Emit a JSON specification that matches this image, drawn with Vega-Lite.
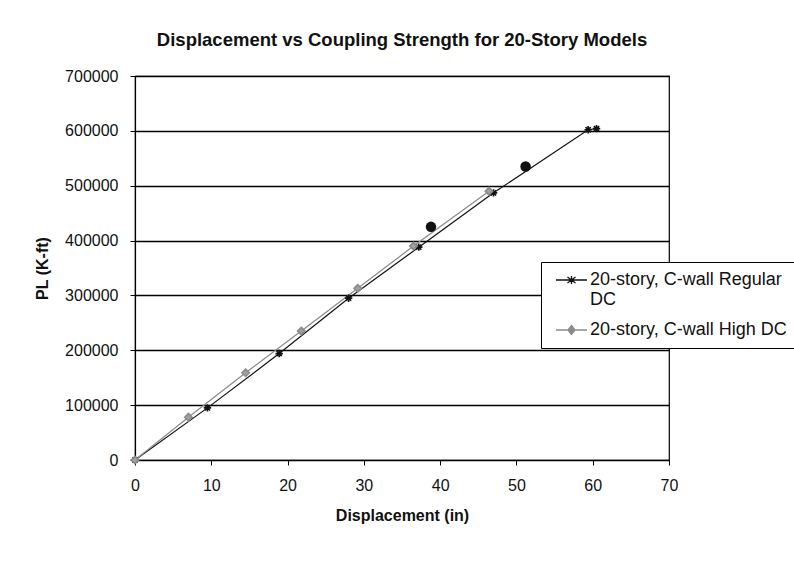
{
  "$schema": "https://vega.github.io/schema/vega-lite/v6.json",
  "width": 534,
  "height": 384,
  "autosize": {"type": "none"},
  "padding": {"left": 135, "top": 76, "right": 125, "bottom": 109},
  "background": "white",
  "title": {
    "text": "Displacement vs Coupling Strength for 20-Story Models",
    "font": "Liberation Sans",
    "fontSize": 18.5,
    "fontWeight": "bold",
    "color": "#111",
    "anchor": "middle",
    "offset": 19
  },
  "config": {
    "view": {"stroke": "black", "strokeWidth": 1.2},
    "axis": {
      "labelFont": "Liberation Sans",
      "labelFontSize": 16,
      "labelColor": "#111",
      "labelFlush": false,
      "titleFont": "Liberation Sans",
      "titleFontSize": 16,
      "titleFontWeight": "bold",
      "titleColor": "#111",
      "domainColor": "black",
      "domainWidth": 1.2,
      "tickColor": "black",
      "tickSize": 5
    }
  },
  "datasets": {
    "series": [
      {"series": "20-story, C-wall Regular DC", "disp": 0, "pl": 0},
      {"series": "20-story, C-wall Regular DC", "disp": 9.5, "pl": 95000},
      {"series": "20-story, C-wall Regular DC", "disp": 18.9, "pl": 194000},
      {"series": "20-story, C-wall Regular DC", "disp": 28.0, "pl": 295000},
      {"series": "20-story, C-wall Regular DC", "disp": 37.2, "pl": 388000},
      {"series": "20-story, C-wall Regular DC", "disp": 47.0, "pl": 487000},
      {"series": "20-story, C-wall Regular DC", "disp": 59.4, "pl": 602000},
      {"series": "20-story, C-wall Regular DC", "disp": 60.5, "pl": 604000},
      {"series": "20-story, C-wall High DC", "disp": 0, "pl": 0},
      {"series": "20-story, C-wall High DC", "disp": 7.0, "pl": 78000},
      {"series": "20-story, C-wall High DC", "disp": 14.5, "pl": 159000},
      {"series": "20-story, C-wall High DC", "disp": 21.8, "pl": 235000},
      {"series": "20-story, C-wall High DC", "disp": 29.2, "pl": 313000},
      {"series": "20-story, C-wall High DC", "disp": 36.5, "pl": 390000},
      {"series": "20-story, C-wall High DC", "disp": 46.4, "pl": 490000}
    ],
    "circles": [
      {"disp": 38.8, "pl": 425000},
      {"disp": 51.2, "pl": 535000}
    ]
  },
  "layer": [
    {
      "data": {"name": "series"},
      "mark": {"type": "line", "strokeWidth": 1.2},
      "encoding": {
        "x": {
          "field": "disp", "type": "quantitative",
          "scale": {"domain": [0, 70], "nice": false},
          "axis": {"values": [0, 10, 20, 30, 40, 50, 60, 70], "grid": false, "title": "Displacement (in)", "titlePadding": 14, "labelPadding": 12}
        },
        "y": {
          "field": "pl", "type": "quantitative",
          "scale": {"domain": [0, 700000], "nice": false},
          "axis": {"values": [0, 100000, 200000, 300000, 400000, 500000, 600000, 700000], "format": "d", "grid": true, "gridColor": "black", "gridWidth": 1.5, "gridOpacity": 1, "title": "PL (K-ft)", "titlePadding": 14, "labelPadding": 12}
        },
        "color": {
          "field": "series", "type": "nominal",
          "scale": {"domain": ["20-story, C-wall Regular DC", "20-story, C-wall High DC"], "range": ["#111111", "#8a8a8a"]},
          "legend": {
            "title": null,
            "orient": "none",
            "legendX": 406,
            "legendY": 186,
            "strokeColor": "black",
            "fillColor": "white",
            "padding": 9,
            "rowPadding": 12,
            "labelFont": "Liberation Sans",
            "labelFontSize": 18,
            "labelColor": "#111",
            "labelLimit": 400,
            "labelOffset": 22,
            "symbolSize": 100,
            "symbolStrokeWidth": 1.2,
            "labelExpr": "datum.label == '20-story, C-wall Regular DC' ? ['20-story, C-wall Regular', 'DC'] : datum.label",
            "encode": {
              "symbols": {
                "update": {
                  "shape": {"signal": "datum.value == '20-story, C-wall High DC' ? 'M-0.6,0L5.6,0M2.5,-0.9L3.2,0L2.5,0.9L1.8,0Z' : 'M-0.6,0L5.6,0M1.7,-0.6L3.3,0.6M1.7,0.6L3.3,-0.6M2.5,-0.8L2.5,0.8'"},
                  "fill": {"signal": "datum.value == '20-story, C-wall High DC' ? '#8a8a8a' : 'transparent'"},
                  "stroke": {"signal": "datum.value == '20-story, C-wall High DC' ? '#8a8a8a' : '#111111'"},
                  "strokeWidth": {"value": 1.3},
                  "size": {"value": 100},
                  "opacity": {"value": 1}
                }
              }
            }
          }
        },
        "detail": {"field": "series"}
      }
    },
    {
      "data": {"name": "series"},
      "mark": {"type": "point", "filled": false, "strokeWidth": 1.6, "size": 55, "opacity": 1},
      "encoding": {
        "x": {"field": "disp", "type": "quantitative"},
        "y": {"field": "pl", "type": "quantitative"},
        "color": {"field": "series", "type": "nominal"},
        "fill": {
          "condition": {"test": "datum.series == '20-story, C-wall High DC'", "value": "#a0a0a0"},
          "value": "transparent"
        },
        "shape": {
          "condition": {"test": "datum.series == '20-story, C-wall High DC'", "value": "diamond"},
          "value": "M-1,0L1,0M0,-1L0,1M-0.7,-0.7L0.7,0.7M-0.7,0.7L0.7,-0.7"
        }
      }
    },
    {
      "data": {"name": "circles"},
      "mark": {"type": "point", "filled": true, "shape": "circle", "size": 110, "color": "#111", "opacity": 1},
      "encoding": {
        "x": {"field": "disp", "type": "quantitative"},
        "y": {"field": "pl", "type": "quantitative"}
      }
    }
  ]
}
